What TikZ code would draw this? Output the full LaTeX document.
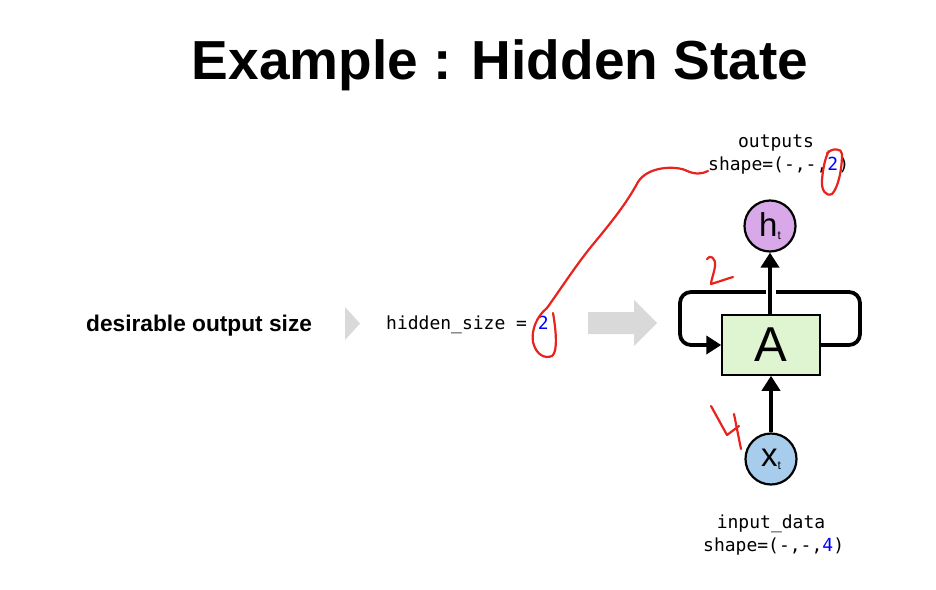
\documentclass[tikz,border=0pt]{standalone}
\usepackage{fontspec}
\setmainfont{Liberation Sans}
\setmonofont{DejaVu Sans Mono}
\usetikzlibrary{arrows.meta}
\definecolor{boxgreen}{HTML}{DFF5D2}
\definecolor{hpurple}{HTML}{D8A8E8}
\definecolor{xblue}{HTML}{A8CCEC}
\definecolor{arrgray}{HTML}{D9D9D9}
\definecolor{pen}{HTML}{E8231E}
\tikzset{
  thick line/.style={line width=3.8pt, line cap=round, line join=round},
  tip/.style={-{Triangle[width=18pt,length=15pt]}},
  monotext/.style={font=\ttfamily\fontsize{18}{20}\selectfont, inner sep=0pt, anchor=base},
  ink/.style={draw=pen, line width=2.2pt, line cap=round, line join=round},
  state/.style={circle, draw=black, line width=2.2pt, minimum size=51pt, inner sep=0pt}
}
\begin{document}
\begin{tikzpicture}[x=1pt,y=-1pt]
\useasboundingbox[fill=white] (0,0) rectangle (936,589);
% title
\node[anchor=base, inner sep=0pt, font=\bfseries\fontsize{55}{60}\selectfont] (title) at (500,79) {Example : Hidden State};
% left text
\node[anchor=base west, inner sep=0pt, font=\bfseries\fontsize{22.7}{26}\selectfont] (desire) at (86,331) {desirable output size};
\fill[arrgray] (345,307) -- (360,323.5) -- (345,340) -- cycle;
\node[monotext, anchor=base west] (hs) at (386,329) {hidden\_size = \textcolor{blue}{2}};
\fill[arrgray] (588,312) -- (634,312) -- (634,300) -- (657,323) -- (634,346) -- (634,334) -- (588,334) -- cycle;
% RNN cell
\node[draw=black, line width=1.5pt, fill=boxgreen, minimum width=98pt, minimum height=60pt, inner sep=0pt, font=\fontsize{49}{50}\selectfont] (A) at (771,345) {A};
\node[state, fill=hpurple, font=\fontsize{33}{34}\selectfont] (h) at (770,226) {h\raisebox{-3pt}{\fontsize{12}{14}\selectfont t}};
\node[state, fill=xblue, font=\fontsize{33}{34}\selectfont] (x) at (771,459) {x\raisebox{-3pt}{\fontsize{12}{14}\selectfont t}};
% recurrent loop
\draw[thick line, rounded corners=11pt] (A.east) -- (860,345) -- (860,292) -- (680,292) -- (680,345) -- (705,345);
\draw[thick line, tip, line cap=butt] (700,345) -- (A.west);
\draw[white, line width=10pt] (771,286) -- (771,298);
\draw[thick line, tip, line cap=butt] (A.north -| h.south) -- (h.south);
\draw[thick line, tip, line cap=butt] (x.north -| A.south) -- (A.south);
% labels
\node[monotext] (out) at (776,147) {outputs};
\node[monotext, anchor=base west] (outshape) at (708,170) {shape=(-,-,\textcolor{blue}{2})};
\node[monotext] (inp) at (771,528) {input\_data};
\node[monotext, anchor=base west] (inshape) at (703,551) {shape=(-,-,\textcolor{blue}{4})};
% red handwriting
\draw[ink] (553,313) .. controls (556,330) and (558,352) .. (552,356)
  .. controls (545,359) and (536,355) .. (533,342)
  .. controls (531,330) and (537,316) .. (547,308)
  .. controls (560,290) and (578,262) .. (595,242)
  .. controls (613,220) and (626,204) .. (638,182)
  .. controls (648,166) and (675,166) .. (685,170)
  .. controls (695,175) and (702,174) .. (708,171);
\draw[ink] (827,153) .. controls (832,148) and (842,148) .. (842,154)
  .. controls (842,170) and (838,188) .. (832,194)
  .. controls (826,197) and (821,190) .. (822,180)
  .. controls (823,168) and (825,158) .. (829,151);
\draw[ink] (707,259) .. controls (710,254) and (716,258) .. (715,266)
  .. controls (714,274) and (711,280) .. (711,284)
  .. controls (718,282) and (726,279) .. (733,277);
\draw[ink] (711,406) -- (727,435) -- (739,426);
\draw[ink] (734,414) -- (741,449);
\end{tikzpicture}
\end{document}
